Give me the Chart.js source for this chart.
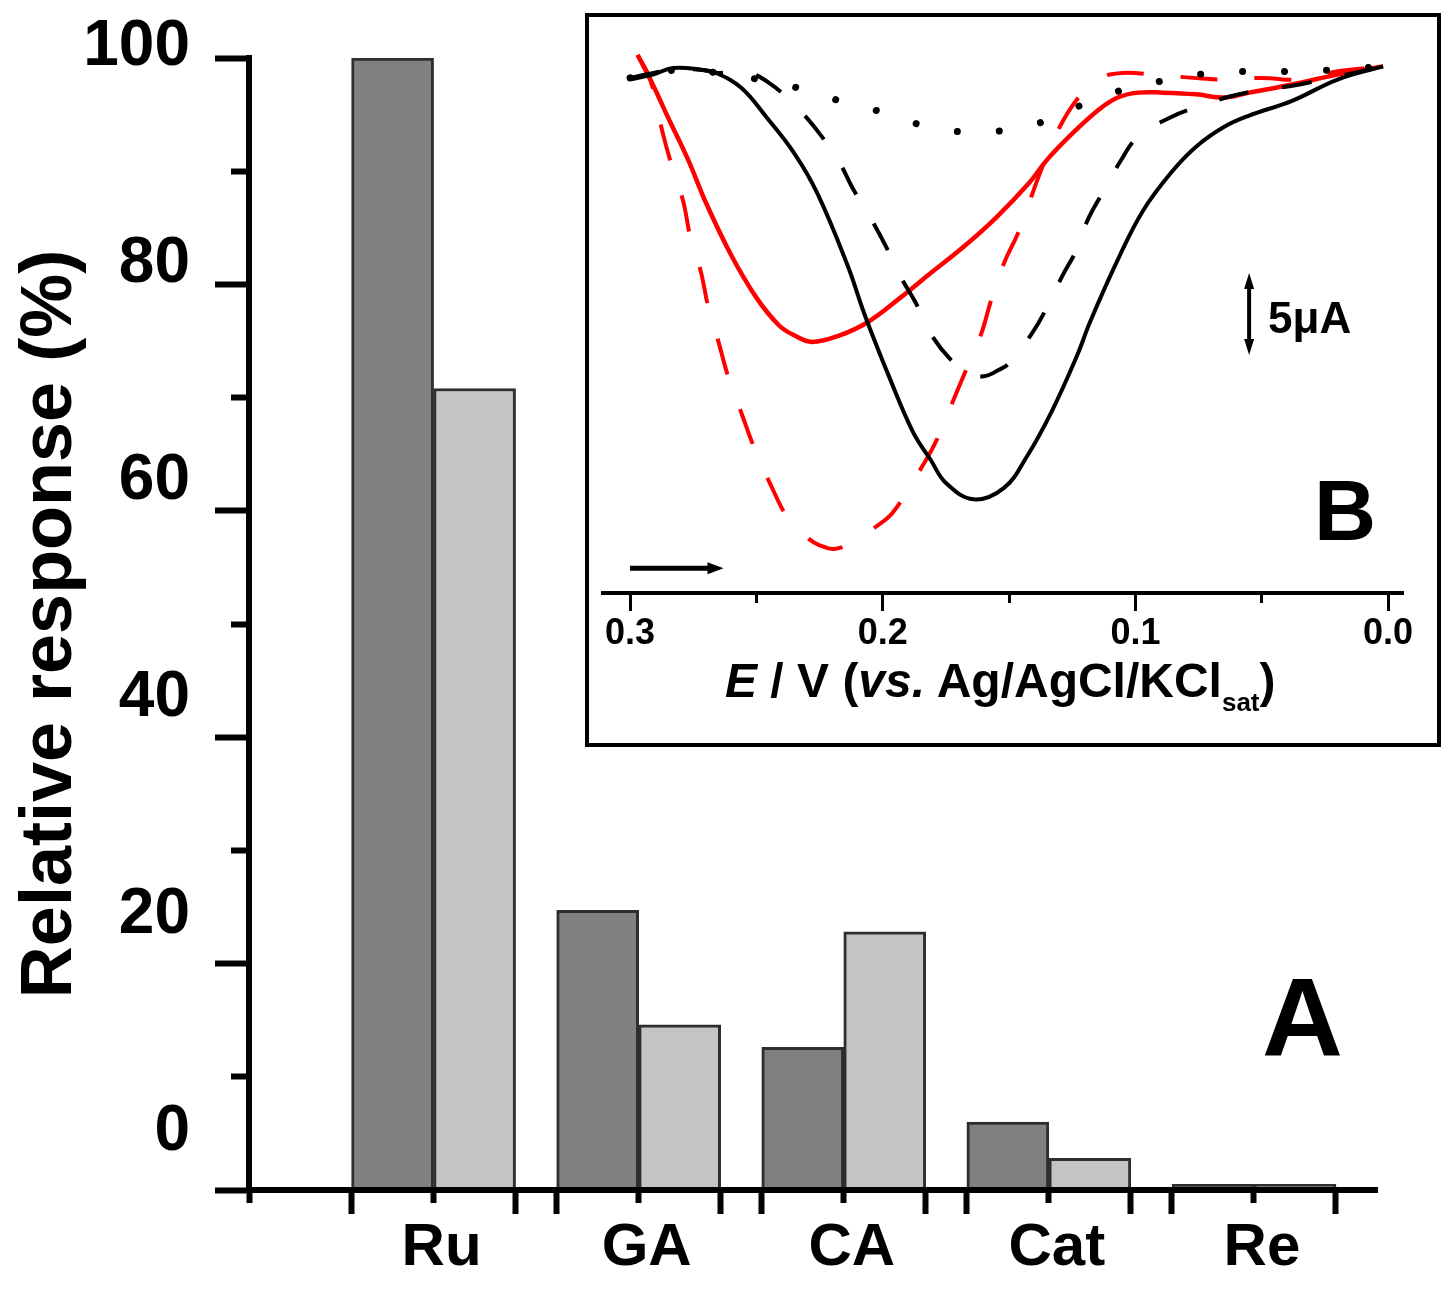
<!DOCTYPE html>
<html>
<head>
<meta charset="utf-8">
<title>Relative response</title>
<script src="https://cdn.jsdelivr.net/npm/chart.js@4.4.1/dist/chart.umd.min.js"></script>
<style>
  html, body { margin: 0; padding: 0; background: #fff; }
  #page { position: relative; width: 1450px; height: 1295px; overflow: hidden; }
  #mainBox { position: absolute; left: 0; top: 0; width: 1450px; height: 1295px; }
  #insetBox { position: absolute; left: 585px; top: 13px; width: 848px; height: 726px; border: 4px solid #000; background: #fff; }
  .lbl { position: absolute; font-family: 'Liberation Sans', Arial, sans-serif; font-weight: bold; line-height: 1; white-space: nowrap; color: #000; }
  .sub { font-size: 26px; line-height: 0; vertical-align: -14px; }
</style>
</head>
<body>
<div id="page">
  <div id="mainBox"><canvas id="mainChart"></canvas></div>
  <div id="insetBox"><canvas id="insetChart"></canvas></div>
  <div class="lbl" style="left:1262px;top:962px;font-size:112px">A</div>
  <div class="lbl" style="left:1314px;top:467px;font-size:86px">B</div>
  <div class="lbl" style="left:1268px;top:296px;font-size:44px">5μA</div>
  <div class="lbl" style="left:725px;top:657px;font-size:48px"><i>E</i> / V (<i>vs.</i> Ag/AgCl/KCl<span class="sub">sat</span>)</div>
</div>
<script>
// ===== DATA (panel A) =====
const categories = ['Ru', 'GA', 'CA', 'Cat', 'Re'];
const responseDark = [100, 24.7, 12.6, 6.0, 0.5];
const responseLight = [70.8, 14.6, 22.8, 2.8, 0.5];
const yTickValues = [0, 20, 40, 60, 80, 100];

// ===== DATA (panel B) : potential E (V), current I (uA) =====
const blackDottedE = [0.300, 0.280, 0.265, 0.249, 0.234, 0.217, 0.200, 0.184, 0.168, 0.152, 0.135, 0.119, 0.102, 0.086, 0.070, 0.053, 0.037, 0.020, 0.002];
const blackDottedI = [-2.0, -1.5, -1.7, -2.1, -2.6, -3.4, -4.1, -4.9, -5.3, -5.2, -4.6, -3.5, -2.6, -2.1, -1.7, -1.6, -1.6, -1.5, -1.3];

const blackDashedE = [0.300, 0.283, 0.272, 0.265, 0.255, 0.245, 0.234, 0.225, 0.217, 0.212, 0.205, 0.199, 0.193, 0.187, 0.181, 0.173, 0.166, 0.160, 0.154, 0.150, 0.141, 0.135, 0.129, 0.123, 0.119, 0.113, 0.106, 0.099, 0.086, 0.076, 0.059, 0.035, 0.002];
const blackDashedI = [-2.0, -1.5, -1.5, -1.7, -1.6, -2.3, -3.8, -5.4, -7.2, -8.7, -10.5, -12.2, -14.1, -15.7, -17.6, -19.2, -20.0, -20.2, -19.8, -19.4, -17.6, -16.0, -14.1, -12.4, -10.7, -9.0, -7.1, -5.6, -4.4, -3.8, -3.0, -2.4, -1.3];

const blackSolidE = [0.300, 0.291, 0.283, 0.272, 0.266, 0.256, 0.246, 0.235, 0.226, 0.214, 0.207, 0.197, 0.188, 0.181, 0.175, 0.164, 0.152, 0.143, 0.133, 0.123, 0.118, 0.107, 0.097, 0.086, 0.076, 0.065, 0.055, 0.038, 0.020, 0.002];
const blackSolidI = [-2.1, -1.8, -1.4, -1.5, -1.7, -2.6, -4.4, -6.6, -9.0, -13.4, -16.5, -20.4, -23.6, -25.3, -26.7, -27.7, -27.0, -25.1, -22.3, -18.9, -16.9, -13.1, -10.1, -7.8, -6.2, -5.0, -4.3, -3.4, -2.1, -1.3];

const redDashedE = [0.297, 0.292, 0.287, 0.283, 0.279, 0.276, 0.272, 0.269, 0.265, 0.261, 0.256, 0.251, 0.245, 0.237, 0.231, 0.225, 0.218, 0.210, 0.203, 0.196, 0.186, 0.179, 0.173, 0.167, 0.161, 0.157, 0.152, 0.146, 0.138, 0.130, 0.121, 0.114, 0.105, 0.093, 0.077, 0.065, 0.050, 0.035, 0.020, 0.002];
const redDashedI = [-0.6, -2.1, -5.4, -7.6, -9.5, -11.8, -13.8, -16.0, -18.1, -20.3, -22.4, -24.5, -26.6, -29.0, -29.9, -30.5, -30.7, -30.1, -29.4, -28.5, -26.1, -24.2, -22.0, -19.8, -17.6, -15.5, -13.3, -11.3, -7.9, -5.0, -2.9, -2.0, -1.7, -1.8, -2.0, -2.1, -2.0, -2.1, -1.6, -1.3];

const redSolidE = [0.297, 0.291, 0.285, 0.277, 0.270, 0.260, 0.250, 0.241, 0.235, 0.228, 0.217, 0.206, 0.193, 0.181, 0.168, 0.155, 0.142, 0.135, 0.125, 0.115, 0.107, 0.099, 0.089, 0.076, 0.065, 0.055, 0.038, 0.020, 0.002];
const redSolidI = [-0.6, -2.4, -4.4, -7.0, -9.6, -12.8, -15.4, -17.1, -17.7, -18.1, -17.7, -16.9, -15.4, -13.9, -12.3, -10.5, -8.4, -7.0, -5.4, -4.0, -3.2, -2.9, -2.9, -3.0, -3.2, -2.9, -2.4, -1.8, -1.3];

const insetTickValues = [0, 0.05, 0.1, 0.15, 0.2, 0.25, 0.3];
const insetMajorTicks = [0, 0.1, 0.2, 0.3];

Chart.defaults.font.family = "'Liberation Sans', Arial, sans-serif";
Chart.defaults.font.weight = 'bold';
Chart.defaults.color = '#000';
Chart.defaults.animation = false;

// axis boxes get a fixed size, and no extra label padding
const fixHeight = (h) => (ax) => { ax.height = h; ax.paddingLeft = 0; ax.paddingRight = 0; };
const fixWidth = (w) => (ax) => { ax.width = w; ax.paddingTop = 0; ax.paddingBottom = 0; };

// ===== PANEL A =====
const groupHalf = 0.4;   // half width of a bar pair, in category units
const xCenters = categories.map((c, i) => i + 1);
const xEdgeTicks = categories.flatMap((c, i) => [i + 1 - groupHalf, i + 1 + groupHalf]);
const xAllTicks = [0.1].concat(categories.flatMap((c, i) => [i + 1 - groupHalf, i + 1, i + 1 + groupHalf]));

const mainCtx = document.getElementById('mainChart').getContext('2d');
new Chart(mainCtx, {
  type: 'bar',
  data: {
    datasets: [{
      label: 'dark',
      data: categories.map((c, i) => ({ x: i + 1, y: responseDark[i] })),
      backgroundColor: '#808080',
      borderColor: '#2e2e2e',
      borderWidth: 3,
      barThickness: 82
    }, {
      label: 'light',
      data: categories.map((c, i) => ({ x: i + 1, y: responseLight[i] })),
      backgroundColor: '#c4c4c4',
      borderColor: '#2e2e2e',
      borderWidth: 3,
      barThickness: 82
    }]
  },
  options: {
    responsive: true,
    maintainAspectRatio: false,
    layout: { padding: { left: 0, right: 73, top: 58, bottom: 0 } },
    plugins: { legend: { display: false }, tooltip: { enabled: false } },
    scales: {
      x: {
        type: 'linear', position: 'bottom', weight: 0,
        min: 0.1, max: 5.6, offset: false,
        afterBuildTicks: (ax) => { ax.ticks = xAllTicks.map(v => ({ value: v })); },
        afterFit: fixHeight(13),
        grid: { offset: false, drawOnChartArea: false, tickLength: 13, tickWidth: 6, tickColor: '#000' },
        border: { display: true, width: 6, color: '#000', z: 1 },
        ticks: { display: false }
      },
      xMajor: {
        type: 'linear', axis: 'x', position: 'bottom', weight: 1,
        min: 0.1, max: 5.6, offset: false,
        afterBuildTicks: (ax) => { ax.ticks = xEdgeTicks.map(v => ({ value: v })); },
        afterFit: fixHeight(11),
        grid: { offset: false, drawOnChartArea: false, tickLength: 11, tickWidth: 6, tickColor: '#000' },
        border: { display: false },
        ticks: { display: false }
      },
      xLabels: {
        type: 'linear', axis: 'x', position: 'bottom', weight: 2,
        min: 0.1, max: 5.6, offset: false,
        afterBuildTicks: (ax) => { ax.ticks = xCenters.map(v => ({ value: v })); },
        afterFit: fixHeight(81),
        grid: { offset: false, display: false, drawTicks: false },
        border: { display: false },
        ticks: {
          autoSkip: false, maxRotation: 0, minRotation: 0, padding: -2, labelOffset: 8,
          font: { size: 60, weight: 'bold' }, color: '#000',
          callback: (v) => categories[Math.round(v) - 1]
        }
      },
      y: {
        type: 'linear', position: 'left', weight: 0,
        min: 0, max: 100,
        afterFit: fixWidth(18),
        grid: { drawOnChartArea: false, tickLength: 18, tickWidth: 6, tickColor: '#000' },
        border: { display: true, width: 6, color: '#000', z: 1 },
        ticks: { display: false, stepSize: 10 }
      },
      yMajor: {
        type: 'linear', axis: 'y', position: 'left', weight: 1,
        min: 0, max: 100,
        afterFit: fixWidth(16),
        grid: { drawOnChartArea: false, tickLength: 16, tickWidth: 6, tickColor: '#000' },
        border: { display: false },
        ticks: { display: false, stepSize: 20 }
      },
      yLabels: {
        type: 'linear', axis: 'y', position: 'left', weight: 2,
        min: -5.3, max: 99.0,
        afterBuildTicks: (ax) => { ax.ticks = yTickValues.map(v => ({ value: v })); },
        afterFit: fixWidth(215),
        grid: { display: false, drawTicks: false },
        border: { display: false },
        ticks: { autoSkip: false, padding: 25, font: { size: 64, weight: 'bold' }, color: '#000' },
        title: {
          display: true, text: 'Relative response (%)', color: '#000',
          font: { size: 72, weight: 'bold' }, padding: { top: 8, bottom: 0 }
        }
      }
    }
  }
});

// ===== PANEL B (inset) =====
const curve = (E, I) => E.map((e, k) => ({ x: e, y: I[k] }));

function arrowHead(ctx, tx, ty, angle, len, halfW) {
  ctx.save();
  ctx.translate(tx, ty);
  ctx.rotate(angle);
  ctx.beginPath();
  ctx.moveTo(0, 0);
  ctx.lineTo(-len, -halfW);
  ctx.lineTo(-len, halfW);
  ctx.closePath();
  ctx.fill();
  ctx.restore();
}

// sweep direction arrow + 5 uA scale bar
const insetMarks = {
  id: 'insetMarks',
  afterDatasetsDraw(chart) {
    const { ctx, scales: { x, y } } = chart;
    ctx.save();
    ctx.strokeStyle = '#000';
    ctx.fillStyle = '#000';
    ctx.lineCap = 'butt';

    const ax0 = x.getPixelForValue(0.3);
    const ax1 = x.getPixelForValue(0.263);
    const ay = y.getPixelForValue(-31.9);
    ctx.lineWidth = 5;
    ctx.beginPath();
    ctx.moveTo(ax0, ay);
    ctx.lineTo(ax1 - 12, ay);
    ctx.stroke();
    arrowHead(ctx, ax1, ay, 0, 16, 6);

    const bx = x.getPixelForValue(0.055);
    const bTop = y.getPixelForValue(-13.9);
    const bBot = y.getPixelForValue(-13.9 - 5);
    ctx.lineWidth = 4;
    ctx.beginPath();
    ctx.moveTo(bx, bTop + 12);
    ctx.lineTo(bx, bBot - 12);
    ctx.stroke();
    arrowHead(ctx, bx, bTop, -Math.PI / 2, 16, 5);
    arrowHead(ctx, bx, bBot, Math.PI / 2, 16, 5);
    ctx.restore();
  }
};

const insetX = { min: -0.0059, max: 0.3107, reverse: true };

const insetCtx = document.getElementById('insetChart').getContext('2d');
new Chart(insetCtx, {
  type: 'line',
  data: {
    datasets: [{
      data: curve(blackDottedE, blackDottedI),
      borderColor: '#000', borderWidth: 7, borderDash: [0.01, 42], borderCapStyle: 'round'
    }, {
      data: curve(blackDashedE, blackDashedI),
      borderColor: '#000', borderWidth: 4, borderDash: [30, 34]
    }, {
      data: curve(blackSolidE, blackSolidI),
      borderColor: '#000', borderWidth: 4
    }, {
      data: curve(redDashedE, redDashedI),
      borderColor: '#ff0000', borderWidth: 4, borderDash: [37, 37]
    }, {
      data: curve(redSolidE, redSolidI),
      borderColor: '#ff0000', borderWidth: 4.5
    }]
  },
  options: {
    responsive: true,
    maintainAspectRatio: false,
    layout: { padding: { left: 14, right: 34, top: 2, bottom: 0 } },
    elements: { point: { radius: 0 }, line: { tension: 0.4, fill: false } },
    plugins: { legend: { display: false }, tooltip: { enabled: false } },
    scales: {
      x: {
        type: 'linear', position: 'bottom', weight: 0, ...insetX,
        afterBuildTicks: (ax) => { ax.ticks = insetTickValues.map(v => ({ value: v })); },
        afterFit: fixHeight(10),
        grid: { drawOnChartArea: false, tickLength: 10, tickWidth: 3, tickColor: '#000' },
        border: { display: true, width: 4, color: '#000', z: 1 },
        ticks: { display: false }
      },
      xMajor: {
        type: 'linear', axis: 'x', position: 'bottom', weight: 1, ...insetX,
        afterBuildTicks: (ax) => { ax.ticks = insetMajorTicks.map(v => ({ value: v })); },
        afterFit: fixHeight(8),
        grid: { drawOnChartArea: false, tickLength: 8, tickWidth: 3, tickColor: '#000' },
        border: { display: false },
        ticks: { display: false }
      },
      xLabels: {
        type: 'linear', axis: 'x', position: 'bottom', weight: 2, ...insetX,
        afterBuildTicks: (ax) => { ax.ticks = insetMajorTicks.map(v => ({ value: v })); },
        afterFit: fixHeight(132),
        grid: { display: false, drawTicks: false },
        border: { display: false },
        ticks: {
          autoSkip: false, maxRotation: 0, minRotation: 0, padding: 1,
          font: { size: 36, weight: 'bold' }, color: '#000',
          callback: (v) => Math.abs(v).toFixed(1)
        }
      },
      y: { type: 'linear', display: false, min: -33.41, max: 1.59 }
    }
  },
  plugins: [insetMarks]
});
</script>
</body>
</html>
